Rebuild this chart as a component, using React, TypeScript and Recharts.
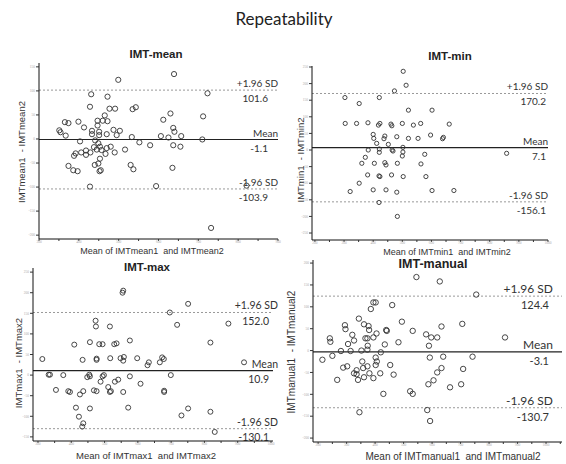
import React from 'react';
import { ScatterChart, Scatter, XAxis, YAxis, ReferenceLine } from 'recharts';

const FONT = 'Lato, "Open Sans", sans-serif';
const AXIS_FONT = '"Liberation Sans", Arial, sans-serif';

// [mean of the two readings, difference of the two readings]
const meanPoints = [
  [499, 123], [639, 135], [431, 93], [723, 95], [472, 88], [428, 67], [477, 63], [491, 63], [535, 62], [543, 66],
  [465, 49], [630, 53], [712, 47], [612, 40], [365, 35], [374, 33], [399, 36], [447, 38], [460, 38], [472, 37],
  [447, 28], [413, 24], [351, 18], [354, 14], [367, 7], [433, 17], [433, 10], [451, 15], [451, 8], [470, 10],
  [487, 19], [503, 17], [495, 8], [533, 4], [606, 6], [625, 3], [637, 23], [640, 15], [657, 6], [403, -5],
  [441, -3], [449, -9], [453, -16], [438, -17], [445, -22], [457, -23], [470, -19], [480, -16], [467, -31], [490, -28],
  [516, -22], [552, -7], [579, -13], [637, -13], [655, -16], [710, -1], [392, -30], [388, -35], [406, -28], [418, -24],
  [418, -33], [429, -28], [453, -41], [440, -54], [449, -51], [374, -56], [386, -65], [397, -67], [452, -67], [455, -65],
  [530, -54], [537, -63], [635, -60], [428, -99], [594, -98], [821, -97], [732, -185],
];

const minPoints = [
  [503, 237], [513, 195], [473, 178], [303, 158], [421, 158], [352, 140], [521, 120], [602, 120], [304, 80], [343, 80],
  [382, 82], [418, 75], [423, 80], [461, 78], [464, 73], [500, 80], [538, 75], [563, 80], [661, 78], [400, 47],
  [402, 35], [440, 42], [437, 34], [481, 40], [521, 35], [554, 35], [597, 45], [641, 38], [638, 34], [412, 20],
  [452, 17], [383, 0], [421, 3], [421, -7], [465, 0], [468, -3], [502, 8], [502, -6], [500, -18], [577, -13],
  [858, -10], [373, -22], [361, -40], [404, -40], [440, -38], [444, -45], [483, -40], [564, -42], [381, -75], [420, -78],
  [423, -80], [463, -75], [503, -80], [581, -80], [352, -100], [321, -125], [400, -120], [444, -120], [481, -127], [602, -122],
  [677, -122], [420, -158], [483, -200],
];

const maxPoints = [
  [554, 200], [556, 205], [751, 173], [696, 152], [473, 132], [474, 118], [516, 118], [718, 122], [872, 125], [409, 74],
  [456, 80], [484, 75], [494, 75], [529, 75], [536, 77], [576, 84], [818, 79], [313, 39], [434, 37], [476, 40],
  [476, 37], [517, 41], [548, 41], [558, 44], [556, 35], [598, 41], [629, 24], [633, 31], [666, 31], [678, 39],
  [673, 43], [919, 31], [332, 1], [336, 1], [376, 0], [448, -5], [454, 1], [456, -3], [494, -3], [498, 0],
  [488, -16], [531, -16], [541, -11], [576, -3], [608, -21], [699, 0], [354, -36], [391, -39], [396, -41], [426, -47],
  [436, -39], [468, -37], [476, -39], [511, -29], [516, -41], [519, -39], [556, -41], [679, -41], [679, -38], [414, -79],
  [456, -81], [571, -79], [751, -81], [818, -89], [423, -101], [731, -98], [436, -117], [433, -125], [831, -138],
];

const manualPoints = [
  [545, 168], [627, 158], [755, 128], [394, 110], [402, 110], [460, 104], [385, 95], [343, 73], [494, 66], [706, 61],
  [294, 58], [296, 49], [361, 60], [377, 56], [379, 47], [439, 47], [441, 45], [532, 45], [633, 55], [405, 39],
  [241, 28], [243, 20], [320, 36], [326, 23], [305, 15], [366, 28], [373, 28], [394, 30], [434, 14], [482, 19],
  [579, 37], [597, 30], [618, 30], [856, 30], [589, 11], [280, -1], [314, -1], [352, 0], [373, 2], [374, 11],
  [420, -4], [215, -21], [250, -12], [288, -39], [302, -36], [326, -52], [335, -45], [335, -54], [355, -25], [358, -40],
  [373, -36], [380, -52], [361, -61], [340, -67], [394, -63], [402, -16], [406, -25], [402, -33], [418, -52], [453, -33],
  [465, -55], [267, -67], [592, -16], [639, -14], [709, -42], [742, -14], [618, -50], [633, -40], [605, -68], [587, -77],
  [663, -84], [702, -77], [429, -99], [523, -93], [532, -99], [345, -141], [583, -136], [593, -161],
];

// mean difference and limits of agreement (mean ± 1.96 SD)
const meanLimits = [-1.1, 101.6, -103.9];
const minLimits = [7.1, 170.2, -156.1];
const maxLimits = [10.9, 152.0, -130.1];
const manualLimits = [-3.1, 124.4, -130.7];

const range = (from: number, to: number, step: number) => {
  const out: number[] = [];
  for (let v = from; v <= to; v += step) out.push(v);
  return out;
};

const panels = [
  {
    name: 'IMT-mean', points: meanPoints, limits: meanLimits,
    left: 0, top: 44, width: 290, height: 220, mTop: 19, mRight: 12, yW: 39, xH: 25,
    xDomain: [300, 900], yDomain: [-208, 158], xTicks: range(300, 900, 50), yTicks: range(-200, 150, 50),
    r: 2.6, fs: 10, fsVal: 10, topDx: 0, valDx: -10,
    title: { x: 156, y: 55, size: 11.5 },
    xTitle: { text: 'Mean of IMTmean1  and IMTmean2', x: 152, y: 251, size: 9 },
    yTitle: { text: 'IMTmean1  - IMTmean2', x: 22, y: 152, size: 9.5 },
  },
  {
    name: 'IMT-min', points: minPoints, limits: minLimits,
    left: 270, top: 44, width: 296, height: 220, mTop: 22, mRight: 18, yW: 42, xH: 24,
    xDomain: [190, 1000], yDomain: [-271, 253], xTicks: range(200, 1000, 50), yTicks: range(-250, 250, 50),
    r: 2.1, fs: 10, fsVal: 10, topDx: 0, valDx: -2,
    title: { x: 450, y: 57, size: 11.5 },
    xTitle: { text: 'Mean of IMTmin1  and IMTmin2', x: 447, y: 252, size: 9 },
    yTitle: { text: 'IMTmin1  - IMTmin2', x: 301, y: 160, size: 9.5 },
  },
  {
    name: 'IMT-max', points: maxPoints, limits: maxLimits,
    left: 0, top: 258, width: 290, height: 206, mTop: 10, mRight: 17, yW: 33, xH: 23,
    xDomain: [285, 1006], yDomain: [-160, 260], xTicks: range(300, 1000, 50), yTicks: range(-150, 250, 50),
    r: 2.5, fs: 10.5, fsVal: 10.5, topDx: 5, valDx: -4,
    title: { x: 147, y: 268, size: 11.5 },
    xTitle: { text: 'Mean of IMTmax1  and IMTmax2', x: 146, y: 456, size: 9.5 },
    yTitle: { text: 'IMTmax1  - IMTmax2', x: 19, y: 363, size: 9.5 },
  },
  {
    name: 'IMT-manual', points: manualPoints, limits: manualLimits,
    left: 270, top: 250, width: 296, height: 214, mTop: 10, mRight: 4, yW: 43, xH: 22,
    xDomain: [182, 1056], yDomain: [-209, 207], xTicks: range(200, 1050, 50), yTicks: range(-200, 200, 50),
    r: 2.7, fs: 12, fsVal: 11, topDx: -9, valDx: -13,
    title: { x: 433, y: 264, size: 12.5 },
    xTitle: { text: 'Mean of IMTmanual1  and IMTmanual2', x: 453, y: 457, size: 10 },
    yTitle: { text: 'IMTmanual1  - IMTmanual2', x: 292, y: 352, size: 10 },
  },
];

const LineLabel = (props: any) => {
  const { viewBox, top, bottom, fs, fsVal, topDx, valDx } = props;
  if (!viewBox) return null;
  const right = viewBox.x + viewBox.width;
  const y = viewBox.y;
  return (
    <g>
      <text x={right + topDx} y={y - 3} textAnchor="end" fontSize={fs} fill="#333" fontFamily={FONT}>{top}</text>
      <text x={right + valDx} y={y + fsVal + 2} textAnchor="end" fontSize={fsVal} fill="#333" fontFamily={FONT}>{bottom}</text>
    </g>
  );
};

const hundreds = (v: number) => (v % 100 === 0 ? String(v) : '');

const Panel = ({ p }: { p: (typeof panels)[number] }) => {
  const data = p.points.map(([x, y]) => ({ x, y }));
  const [mean, upper, lower] = p.limits;
  const lbl = { fs: p.fs, fsVal: p.fsVal, topDx: p.topDx, valDx: p.valDx };
  return (
    <div style={{ position: 'absolute', left: p.left, top: p.top }}>
      <ScatterChart width={p.width} height={p.height} margin={{ top: p.mTop, right: p.mRight, bottom: 0, left: 0 }}>
        <XAxis
          type="number" dataKey="x" domain={p.xDomain} ticks={p.xTicks} interval={0} allowDataOverflow
          height={p.xH} tickSize={2} tickMargin={0} tickFormatter={hundreds}
          tick={{ fontSize: 3.5, fill: '#aaa' }} axisLine={{ stroke: '#111' }} tickLine={{ stroke: '#333' }}
        />
        <YAxis
          type="number" dataKey="y" domain={p.yDomain} ticks={p.yTicks} interval={0} allowDataOverflow
          width={p.yW} tickSize={3} tickMargin={1}
          tick={{ fontSize: 3.5, fill: '#aaa' }} axisLine={{ stroke: '#111' }} tickLine={{ stroke: '#333' }}
        />
        <ReferenceLine y={upper} stroke="#999" strokeDasharray="2 2"
          label={<LineLabel top="+1.96 SD" bottom={upper.toFixed(1)} {...lbl} />} />
        <ReferenceLine y={mean} stroke="#222" strokeWidth={1.2}
          label={<LineLabel top="Mean" bottom={mean.toFixed(1)} {...lbl} />} />
        <ReferenceLine y={lower} stroke="#999" strokeDasharray="2 2"
          label={<LineLabel top="-1.96 SD" bottom={lower.toFixed(1)} {...lbl} />} />
        <Scatter
          data={data} isAnimationActive={false}
          shape={(s: any) => <circle cx={s.cx} cy={s.cy} r={p.r} fill="none" stroke="#333" strokeWidth={0.9} />}
        />
      </ScatterChart>
    </div>
  );
};

const centered = (x: number, y: number, extra: React.CSSProperties = {}): React.CSSProperties => ({
  position: 'absolute', left: x, top: y, transform: 'translate(-50%, -50%)', whiteSpace: 'pre', lineHeight: 1, ...extra,
});

export default function App() {
  return (
    <div style={{ position: 'absolute', left: 0, top: 0, width: 566, height: 464, background: '#fff', overflow: 'hidden' }}>
      <div style={centered(284, 18, { fontFamily: FONT, fontSize: 17, color: '#222' })}>Repeatability</div>
      {panels.map((p) => (
        <React.Fragment key={p.name}>
          <Panel p={p} />
          <div style={centered(p.title.x, p.title.y, { fontFamily: AXIS_FONT, fontWeight: 'bold', fontSize: p.title.size, color: '#222' })}>
            {p.name}
          </div>
          <div style={centered(p.xTitle.x, p.xTitle.y, { fontFamily: AXIS_FONT, fontSize: p.xTitle.size, color: '#333' })}>
            {p.xTitle.text}
          </div>
          <div style={centered(p.yTitle.x, p.yTitle.y, {
            fontFamily: AXIS_FONT, fontSize: p.yTitle.size, color: '#333',
            transform: 'translate(-50%, -50%) rotate(-90deg)',
          })}>
            {p.yTitle.text}
          </div>
        </React.Fragment>
      ))}
    </div>
  );
}
